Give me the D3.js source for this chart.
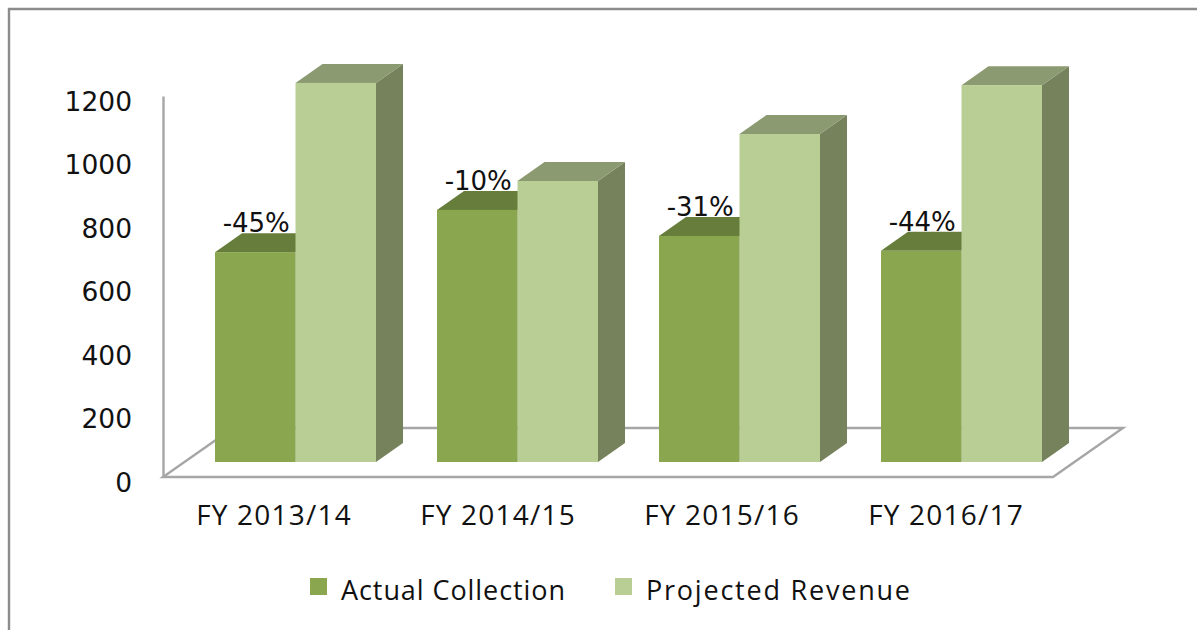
<!DOCTYPE html>
<html><head><meta charset="utf-8">
<script src="https://cdn.jsdelivr.net/npm/d3@7"></script>
<style>html,body{margin:0;padding:0;background:#fff}svg{display:block}</style>
</head><body><svg id="c" width="1197" height="630"></svg>
<script>
const categories = ["FY 2013/14","FY 2014/15","FY 2015/16","FY 2016/17"];
const seriesNames = ["Actual Collection","Projected Revenue"];
const actual = [661,794,712,665];
const projected = [1194,885,1033,1187];
const changeLabels = ["-45%","-10%","-31%","-44%"];
const yTicks = [0,200,400,600,800,1000,1200];

const svg = d3.select("#c");
const font = "'Open Sans',sans-serif", numFont = "'DejaVu Sans',sans-serif";
const frontFill = ["#8aa64f","#b9ce95"], topFill = ["#677d3b","#8c9a72"], sideFill = ["#5f7238","#76825c"];
const dx = 27, dy = 19, floorDx = 70, floorDy = 49;

// frame
svg.append("path").attr("d","M1197,9H9V630").attr("fill","none").attr("stroke","#8c8c8c").attr("stroke-width",2.4);

// scales
const x = d3.scaleBand().domain(categories).range([163,1051]);
const xLabel = d3.scaleBand().domain(categories).range([162,1058]);
const yAxisScale = d3.scaleLinear().domain([0,1200]).range([477,96]);
const yFront = d3.scaleLinear().domain([0,1200]).range([462,81]);
const barW = 80.5, barOff = 52;

// floor
const floorStroke = "#a6a6a6";
const fp = [[163,477],[1053,477],[1053+floorDx,477-floorDy],[163+floorDx,477-floorDy]];
svg.append("path").attr("d",d3.line()(fp)+"Z").attr("fill","#fff").attr("stroke",floorStroke).attr("stroke-width",2.4).attr("stroke-linejoin","miter");

// y axis
const ya = d3.axisLeft(yAxisScale).tickValues(yTicks).tickSize(0).tickPadding(31).tickFormat(d3.format("d"));
const yg = svg.append("g").attr("transform","translate(163,0)").call(ya);
yg.select(".domain").attr("stroke",floorStroke).attr("stroke-width",2.4);
yg.selectAll("text").attr("font-family",numFont).attr("font-size",26.5).attr("fill","#111").attr("dy","0.54em");

// x axis labels
const xa = d3.axisBottom(xLabel).tickSize(0).tickPadding(28);
const xg = svg.append("g").attr("transform","translate(0,477)").call(xa);
xg.select(".domain").remove();
xg.selectAll("text").attr("font-family",font).attr("font-size",28).attr("letter-spacing",1.2).attr("fill","#111");

// bars
function bar(g,x0,yTop,i){
  const x1 = x0+barW, yb = yFront(0);
  g.append("path").attr("d",d3.line()([[x1,yTop],[x1+dx,yTop-dy],[x1+dx,yb-dy],[x1,yb]])+"Z").attr("fill",sideFill[i]);
  g.append("path").attr("d",d3.line()([[x0,yTop],[x0+dx,yTop-dy],[x1+dx,yTop-dy],[x1,yTop]])+"Z").attr("fill",topFill[i]);
  g.append("rect").attr("x",x0).attr("y",yTop).attr("width",barW).attr("height",yb-yTop).attr("fill",frontFill[i]);
}
categories.forEach((c,k)=>{
  const g = svg.append("g");
  const x0 = x(c)+barOff;
  bar(g,x0,yFront(actual[k]),0);
  bar(g,x0+barW,yFront(projected[k]),1);
});
// data labels, above so they overlay bar tops
categories.forEach((c,k)=>{
  svg.append("text").attr("x",x(c)+barOff+barW/2+1).attr("y",yFront(actual[k])-20)
    .attr("text-anchor","middle").attr("font-family",numFont).attr("font-size",26).attr("fill","#111").text(changeLabels[k]);
});

// legend
const legendText = [341,646], legendW=[224,264];
const swatchX = [310,615];
seriesNames.forEach((n,i)=>{
  svg.append("rect").attr("x",swatchX[i]).attr("y",578).attr("width",17).attr("height",17).attr("fill",frontFill[i]);
  svg.append("text").attr("x",legendText[i]).attr("y",600).attr("font-family",font).attr("font-size",27)
    .attr("textLength",legendW[i]).attr("fill","#111").text(n);
});
</script></body></html>
